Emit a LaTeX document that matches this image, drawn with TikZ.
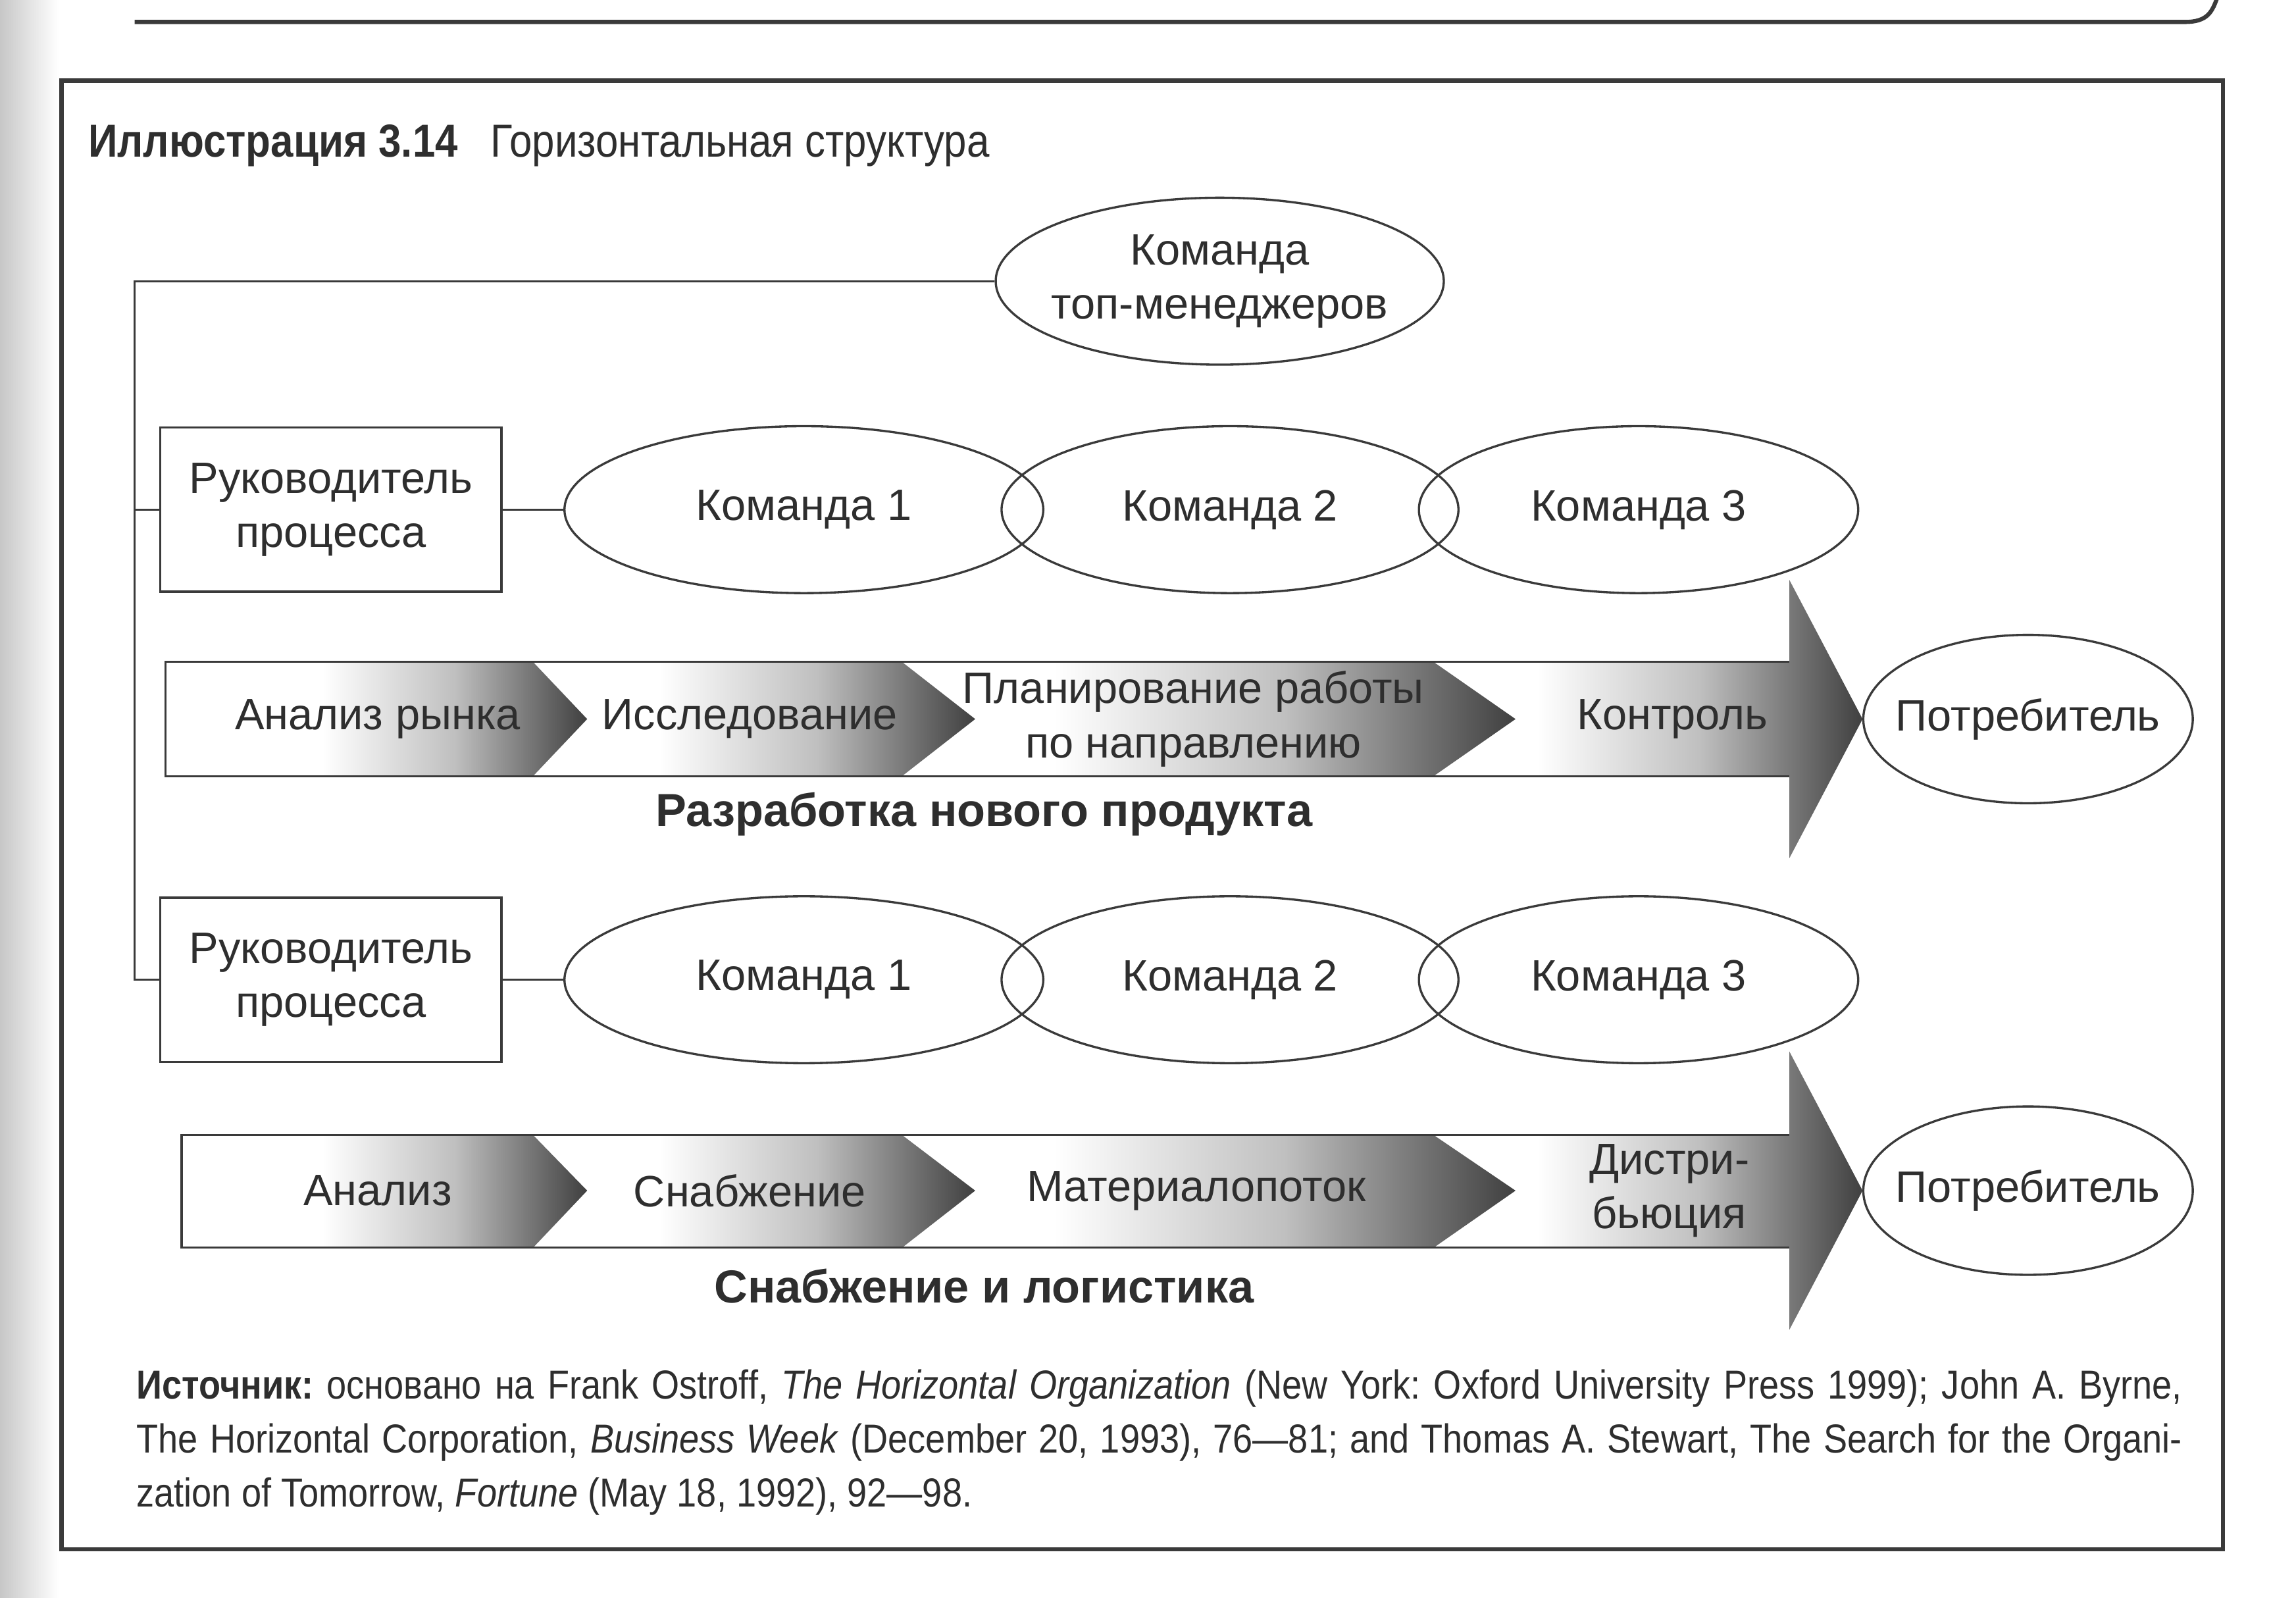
\documentclass[tikz,border=0pt]{standalone}
\usepackage{fontspec}
\setmainfont{Liberation Sans}
\newfontfamily\narrowsans[FakeStretch=0.88]{Liberation Sans}
\usetikzlibrary{shapes.geometric}

\definecolor{inkgray}{HTML}{3A3A3A}
\definecolor{txtgray}{HTML}{2E2E2E}
\newcommand{\pu}{0.2225mm}
\newcommand{\lblfont}{\fontsize{19}{23.4}\selectfont}

\begin{document}
\frenchspacing
\begin{tikzpicture}[x=0.2225mm, y=-0.2225mm,
    ink/.style={draw=inkgray, line width=0.95pt},
    frameline/.style={draw=inkgray, line width=1.8pt},
    oval/.style 2 args={ellipse, ink, inner sep=0pt, minimum width=#1*\pu, minimum height=#2*\pu},
    leadbox/.style={rectangle, ink, inner sep=0pt, minimum width=233*\pu, minimum height=112*\pu, align=center, font=\lblfont, text=txtgray},
    lbl/.style={inner sep=0pt, align=center, font=\lblfont, text=txtgray},
    chev/.style={left color=white, right color=black!75, middle color=black!25},
    flowtitle/.style={inner sep=0pt, font=\bfseries\fontsize{20}{24}\selectfont, text=txtgray}
  ]

  % 1. Fondo, ombra della rilegatura e cornice
  \useasboundingbox (0,0) rectangle (1568,1091);
  \fill[white] (0,0) rectangle (1568,1091);
  \shade[left color=black!22, right color=white] (0,0) rectangle (40,1091);
  \draw[frameline] (92,15) -- (1492,15) .. controls (1508,15) and (1511,8) .. (1515,-4);
  \draw[frameline] (42,55) rectangle (1518,1058);

  % 2. Titolo
  \node[anchor=base west, inner sep=0pt, text=txtgray, font=\narrowsans\fontsize{20}{24}\selectfont] (title) at (60,107)
    {\textbf{Иллюстрация 3.14}\hspace{0.7em}Горизонтальная структура};

  % 3. Vertice e responsabili di processo
  \node[oval={306}{114}] (top) at (833,192) {};
  \node[lbl] (toplbl) at (top) {Команда\\топ-менеджеров};
  \node[leadbox] (mgr1) at (226,348) {Руководитель\\процесса};
  \node[leadbox] (mgr2) at (226,669) {Руководитель\\процесса};

  % 4. Squadre (ellissi sovrapposte)
  \node[oval={327}{114}, lbl, draw=inkgray, line width=0.95pt] (k11) at (549,348) {Команда 1};
  \node[oval={312}{114}, lbl, draw=inkgray, line width=0.95pt] (k12) at (840,348) {Команда 2};
  \node[oval={300}{114}, lbl, draw=inkgray, line width=0.95pt] (k13) at (1119,348) {Команда 3};
  \node[oval={327}{114}, lbl, draw=inkgray, line width=0.95pt] (k21) at (549,669) {Команда 1};
  \node[oval={312}{114}, lbl, draw=inkgray, line width=0.95pt] (k22) at (840,669) {Команда 2};
  \node[oval={300}{114}, lbl, draw=inkgray, line width=0.95pt] (k23) at (1119,669) {Команда 3};

  % 5. Collegamenti
  \coordinate (bt) at (92,192);
  \coordinate (bb) at (92,669);
  \draw[ink] (top.west) -- (bt) -- (bb) -- (mgr2.west);
  \draw[ink] (mgr1.west) -- (mgr1.west -| bt);
  \draw[ink] (mgr1.east) -- (k11.west);
  \draw[ink] (mgr2.east) -- (k21.west);

  % 6. Frecce di processo con le fasi sfumate
  \foreach \yt/\ym/\yb/\xl in {452/491/530/113, 775/813/852/124} {
    \foreach \xs/\xc/\xt in {220/364/401, 450/616/666, 720/979/1035}
      \shade[chev] (\xs,\yt) -- (\xc,\yt) -- (\xt,\ym) -- (\xc,\yb) -- (\xs,\yb) -- cycle;
    \shade[chev] (1050,\yt) -- (1222,\yt) -- (1222,{\ym-95}) -- (1272,\ym)
      -- (1222,{\ym+95}) -- (1222,\yb) -- (1050,\yb) -- cycle;
    \draw[ink] (1222,\yt) -- (\xl,\yt) -- (\xl,\yb) -- (1222,\yb);
  }

  % 7. Fasi: sviluppo nuovo prodotto
  \node[lbl] (s11) at (258,491) {Анализ рынка};
  \node[lbl] (s12) at (512,491) {Исследование};
  \node[lbl] (s13) at (815,491) {Планирование работы\\по направлению};
  \node[lbl] (s14) at (1142,491) {Контроль};
  \node[oval={225}{115}] (c1) at (1385,491) {};
  \node[lbl] (c1lbl) at (c1) {Потребитель};
  \node[flowtitle] (f1) at (672,556) {Разработка нового продукта};

  % 8. Fasi: approvvigionamento e logistica
  \node[lbl] (s21) at (258,813) {Анализ};
  \node[lbl] (s22) at (512,813) {Снабжение};
  \node[lbl] (s23) at (817,813) {Материалопоток};
  \node[lbl] (s24) at (1140,813) {Дистри-\\бьюция};
  \node[oval={225}{115}] (c2) at (1385,813) {};
  \node[lbl] (c2lbl) at (c2) {Потребитель};
  \node[flowtitle] (f2) at (672,878) {Снабжение и логистика};

  % 9. Fonte
  \node[anchor=base west, inner sep=0pt, text width=1397*\pu, align=justify, text=txtgray,
        font=\narrowsans\fontsize{17.5}{23.4}\selectfont] (src) at (93,955)
    {\textbf{Источник:} основано на Frank Ostroff, \textit{The Horizontal Organization} (New York: Oxford University Press 1999); John A. Byrne,\linebreak
     The Horizontal Corporation, \textit{Business Week} (December 20, 1993), 76—81; and Thomas A. Stewart, The Search for the Organi-\linebreak
     zation of Tomorrow, \textit{Fortune} (May 18, 1992), 92—98.};
\end{tikzpicture}
\end{document}
